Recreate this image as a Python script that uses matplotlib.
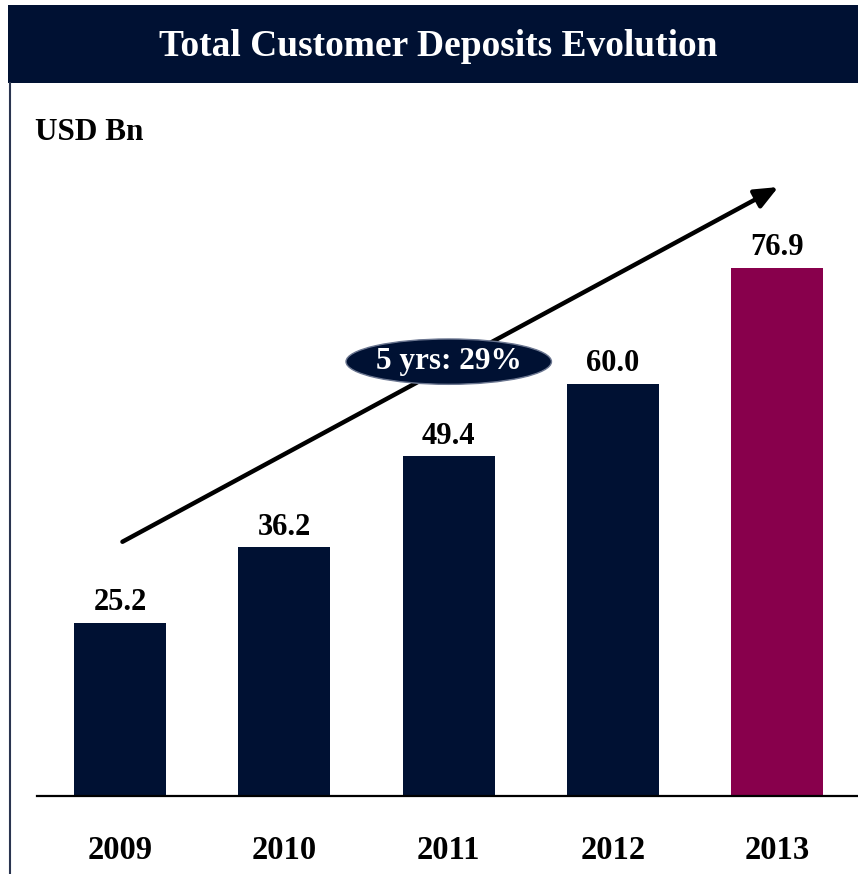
import matplotlib.pyplot as plt
from matplotlib.patches import Rectangle, Ellipse
from matplotlib.lines import Line2D

# Data
years = ["2009", "2010", "2011", "2012", "2013"]
deposits = [25.2, 36.2, 49.4, 60.0, 76.9]
bar_colors = ["#001133", "#001133", "#001133", "#001133", "#88004C"]
title = "Total Customer Deposits Evolution"
unit = "USD Bn"
cagr_label = "5 yrs: 29%"

navy = "#001133"
plt.rcParams['font.family'] = ['Liberation Serif', 'DejaVu Serif']
plt.rcParams['font.weight'] = 'bold'

W, H = 858, 874
fig = plt.figure(figsize=(W / 100, H / 100), dpi=100)

# title bar and left border
fig.patches.append(Rectangle((8 / W, 1 - 83 / H), 1 - 8 / W, 78 / H, transform=fig.transFigure,
                             facecolor=navy, edgecolor="none"))
fig.lines.append(Line2D([9.5 / W, 9.5 / W], [0, 1 - 83 / H], transform=fig.transFigure,
                        color="#2a3550", linewidth=1.5))
fig.text(438 / W, 1 - 46 / H, title, color="white", fontsize=27, fontweight="bold",
         ha="center", va="center")
fig.text(35 / W, 1 - 133 / H, unit, color="black", fontsize=22.5, fontweight="bold",
         ha="left", va="center")

# bar axes
ax = fig.add_axes([37 / W, 1 - 796 / H, 1 - 37 / W, (796 - 95) / H])
x = range(len(years))
ax.bar(x, deposits, width=0.56, color=bar_colors)
ax.set_xlim(-0.505, 4.49)
ax.set_ylim(0, 102)
for i, v in enumerate(deposits):
    ax.text(i, v + 2.9, f"{v:.1f}", ha="center", va="center", fontsize=22, fontweight="bold")

ax.set_xticks(list(x))
ax.set_xticklabels(years, fontsize=23.5, fontweight="bold")
ax.tick_params(axis="x", length=0, pad=28)
ax.set_yticks([])
for s in ["top", "right", "left"]:
    ax.spines[s].set_visible(False)
ax.spines["bottom"].set_linewidth(1.6)

# growth arrow with CAGR bubble
ax.annotate("", xy=(4.02, 88.8), xytext=(0, 36.8),
            arrowprops=dict(arrowstyle="-|>,head_length=1.4,head_width=0.6", color="black", lw=3.2),
            annotation_clip=False)
ax.add_patch(Ellipse((2.0, 63.2), 1.25, 6.6, facecolor=navy, edgecolor="#6b7690", lw=1.0, zorder=5))
ax.text(2.0, 63.2, cagr_label, color="white", fontsize=22.5, fontweight="bold",
        ha="center", va="center", zorder=6)

fig.savefig("out.png", dpi=100)
